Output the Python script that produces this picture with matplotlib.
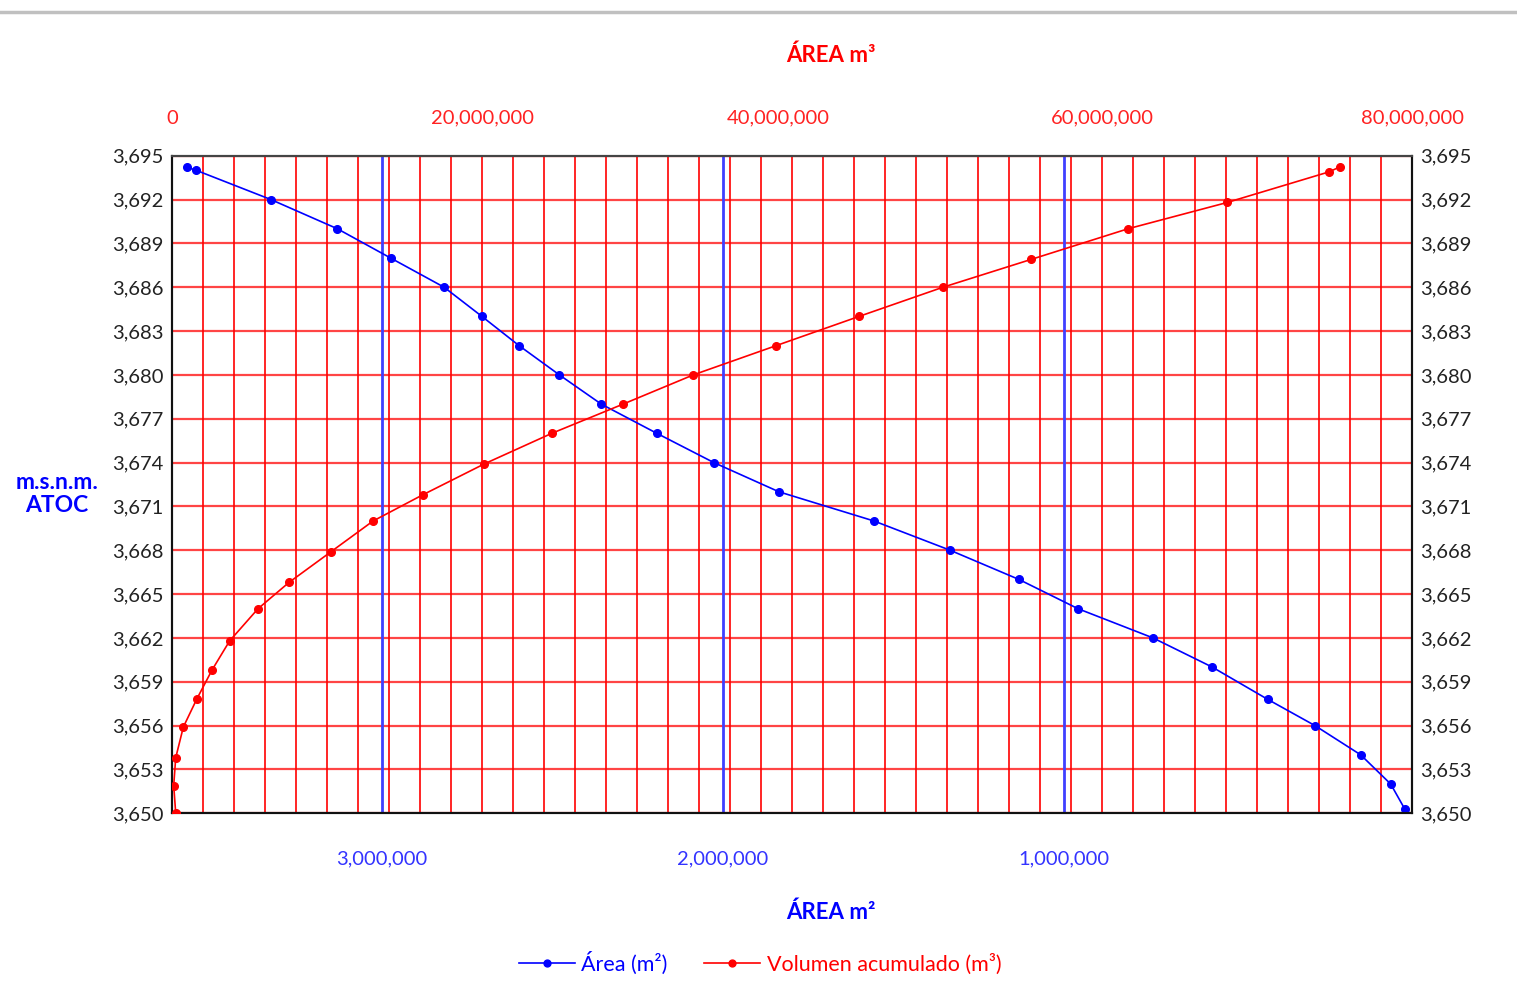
import numpy as np
import matplotlib
matplotlib.use("Agg")
import matplotlib.pyplot as plt
from matplotlib.ticker import FuncFormatter
from matplotlib.transforms import blended_transform_factory, ScaledTranslation
from matplotlib.lines import Line2D

plt.rcParams['font.family'] = ['Lato', 'DejaVu Sans']

# ---- data ----
elev_area = [3650.3, 3652, 3654, 3656, 3657.8, 3660, 3662, 3664, 3666, 3668, 3670,
             3672, 3674, 3676, 3678, 3680, 3682, 3684, 3686, 3688, 3690, 3692,
             3694, 3694.2]
area_m2 = [0, 41000, 129000, 263000, 402000, 564000, 738000, 958000, 1131000,
           1333000, 1556000, 1835000, 2026000, 2193000, 2356000, 2479000,
           2597000, 2706000, 2817000, 2974000, 3130000, 3325000, 3544000, 3570000]

elev_vol = [3650, 3651.9, 3653.8, 3655.9, 3657.8, 3659.8, 3661.8, 3664, 3665.8,
            3667.9, 3670, 3671.8, 3673.9, 3676, 3678, 3680, 3682, 3684, 3686,
            3687.9, 3690, 3691.8, 3693.9, 3694.25]
vol_m3 = [240000, 110000, 240000, 730000, 1590000, 2580000, 3720000, 5550000,
          7550000, 10260000, 12970000, 16190000, 20130000, 24500000, 29100000,
          33630000, 38970000, 44320000, 49740000, 55420000, 61680000, 68080000,
          74670000, 75370000]

y_ticks = list(range(3650, 3696, 3))
area_ticks = [1000000, 2000000, 3000000]
vol_ticks = [0, 20000000, 40000000, 60000000, 80000000]

BLUE = '#0000ff'
RED = '#ff0000'
BLUE_TXT = '#3333ff'
RED_TXT = '#ff2222'

fig = plt.figure(figsize=(15.17, 9.85), dpi=100)
W, H = 1517, 985
L, R, T, B = 172, 1412, 155.7, 813.3
ax = fig.add_axes([L / W, 1 - B / H, (R - L) / W, (B - T) / H])
ax2 = ax.twiny()

ax.set_ylim(3650, 3695)
ax.set_xlim(3.615e6, -0.0214e6)
ax2.set_xlim(0, 80e6)

# grid
ax.set_yticks(y_ticks)
ax.yaxis.grid(True, color='#ff4545', lw=1.6, zorder=0)
ax.set_axisbelow(True)
vol_grid = np.arange(2e6, 80e6, 2e6)
trans = blended_transform_factory(ax2.transData, ax.transAxes)
ax.vlines(vol_grid, 0, 1, transform=trans, color=RED, lw=1.2, zorder=1)
for a in area_ticks:
    ax.axvline(a, color='#4040ff', lw=2.0, zorder=2)

# data
ax.plot(area_m2, elev_area, color=BLUE, lw=1.2, marker='o', ms=5.5,
        zorder=5, label='Área (m²)')
ax2.plot(vol_m3, elev_vol, color=RED, lw=1.2, marker='o', ms=5.5,
         zorder=5, label='Volumen acumulado (m³)')

fmt = FuncFormatter(lambda v, p: f"{v:,.0f}")
ax.set_xticks(area_ticks)
ax.xaxis.set_major_formatter(fmt)
ax.yaxis.set_major_formatter(fmt)
ax2.set_xticks(vol_ticks)
ax2.xaxis.set_major_formatter(fmt)

ax.tick_params(axis='x', length=0, pad=27, labelsize=14.5, labelcolor=BLUE_TXT)
ax.tick_params(axis='y', length=0, pad=6, labelsize=14.5, labelcolor='#222222',
               right=True, labelright=True)
ax2.tick_params(axis='x', length=0, pad=21, labelsize=14.5, labelcolor=RED_TXT)

# the 40,000,000 label sits slightly left of its gridline in the reference
tk = ax2.xaxis.get_major_ticks()[2]
tk.label2.set_transform(tk.label2.get_transform() +
                        ScaledTranslation(-14 / 100, 0, fig.dpi_scale_trans))

for sp in list(ax.spines.values()) + list(ax2.spines.values()):
    sp.set_color('#111111')
    sp.set_linewidth(1.5)
ax2.spines['top'].set_color('#444444')

# axis titles
fig.text(831 / W, 1 - 55 / H, 'ÁREA m³', color=RED, fontsize=16,
         fontweight='bold', ha='center', va='center')
fig.text(831 / W, 1 - 912 / H, 'ÁREA m²', color=BLUE, fontsize=16,
         fontweight='bold', ha='center', va='center')
fig.text(57 / W, 1 - 494 / H, 'm.s.n.m.\nATOC', color=BLUE, fontsize=16.5,
         fontweight='bold', ha='center', va='center', linespacing=1.15)

# top gray rule
fig.add_artist(Line2D([0, 1], [1 - 12 / H, 1 - 12 / H], transform=fig.transFigure,
                      color='#c0c0c0', lw=2.5))

# legend
h1, l1 = ax.get_legend_handles_labels()
h2, l2 = ax2.get_legend_handles_labels()
leg = fig.legend(h1 + h2, l1 + l2, loc='center', bbox_to_anchor=(760 / W, 1 - 963 / H),
                 ncol=2, frameon=False, fontsize=15.5, handlelength=2.6,
                 handletextpad=0.3, columnspacing=1.7, markerscale=0.9)
for txt, c in zip(leg.get_texts(), [BLUE, RED]):
    txt.set_color(c)

fig.savefig('out.png', dpi=100)
